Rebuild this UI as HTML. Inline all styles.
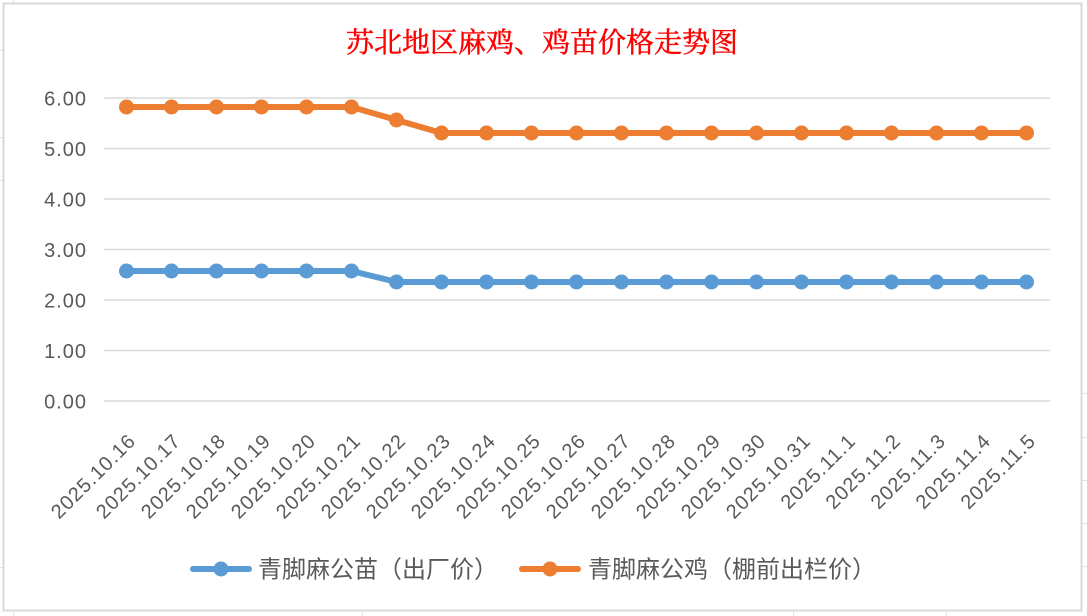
<!DOCTYPE html>
<html>
<head>
<meta charset="utf-8">
<style>
html,body{margin:0;padding:0;background:#fff;}
body{width:1087px;height:616px;overflow:hidden;}
svg{display:block;}
.yl{font-family:"Liberation Sans",sans-serif;font-size:20px;fill:#595959;letter-spacing:1px;}
.xl{font-family:"Liberation Sans",sans-serif;font-size:20px;fill:#595959;letter-spacing:1px;}
.lg{font-family:"Liberation Sans","Noto Sans CJK SC",sans-serif;font-size:24px;fill:#595959;}
.tt{font-family:"Liberation Serif","Noto Serif CJK SC",serif;font-size:28px;fill:#ff0000;stroke:#ff0000;stroke-width:0.5px;}
</style>
</head>
<body>
<svg width="1087" height="616" viewBox="0 0 1087 616" xmlns="http://www.w3.org/2000/svg">
  <g stroke="#e3e3e3" stroke-width="1">
    <line x1="13.5" y1="0" x2="13.5" y2="4"/>
    <line x1="13.5" y1="610" x2="13.5" y2="616"/>
    <line x1="362.5" y1="610" x2="362.5" y2="616"/>
    <line x1="793.5" y1="610" x2="793.5" y2="616"/>
    <line x1="946.5" y1="610" x2="946.5" y2="616"/>
    <line x1="0" y1="50.5" x2="4" y2="50.5"/>
    <line x1="0" y1="137.5" x2="4" y2="137.5"/>
    <line x1="0" y1="180.5" x2="4" y2="180.5"/>
    <line x1="0" y1="567.5" x2="4" y2="567.5"/>
    <line x1="1082" y1="393.5" x2="1087" y2="393.5"/>
    <line x1="1082" y1="437.5" x2="1087" y2="437.5"/>
    <line x1="1082" y1="480.5" x2="1087" y2="480.5"/>
    <line x1="1082" y1="523.5" x2="1087" y2="523.5"/>
    <line x1="1082" y1="566.5" x2="1087" y2="566.5"/>
  </g>
  <rect x="3.5" y="3.5" width="1078" height="607" fill="#fff" stroke="#d9d9d9" stroke-width="2"/>

  <text class="tt" x="542" y="52" text-anchor="middle">苏北地区麻鸡、鸡苗价格走势图</text>

  <g stroke="#d9d9d9" stroke-width="1.5">
    <line x1="104" y1="98" x2="1050" y2="98"/>
    <line x1="104" y1="148.5" x2="1050" y2="148.5"/>
    <line x1="104" y1="199" x2="1050" y2="199"/>
    <line x1="104" y1="249.5" x2="1050" y2="249.5"/>
    <line x1="104" y1="300" x2="1050" y2="300"/>
    <line x1="104" y1="350.5" x2="1050" y2="350.5"/>
    <line x1="104" y1="401" x2="1050" y2="401"/>
  </g>

  <g class="yl" text-anchor="end">
    <text x="87" y="105.5">6.00</text>
    <text x="87" y="156">5.00</text>
    <text x="87" y="206.5">4.00</text>
    <text x="87" y="257">3.00</text>
    <text x="87" y="307.5">2.00</text>
    <text x="87" y="358">1.00</text>
    <text x="87" y="408.5">0.00</text>
  </g>

  <g class="xl" text-anchor="end">
    <text x="137" y="442" transform="rotate(-45 137 442)">2025.10.16</text>
    <text x="182" y="442" transform="rotate(-45 182 442)">2025.10.17</text>
    <text x="227" y="442" transform="rotate(-45 227 442)">2025.10.18</text>
    <text x="272" y="442" transform="rotate(-45 272 442)">2025.10.19</text>
    <text x="317" y="442" transform="rotate(-45 317 442)">2025.10.20</text>
    <text x="362" y="442" transform="rotate(-45 362 442)">2025.10.21</text>
    <text x="407" y="442" transform="rotate(-45 407 442)">2025.10.22</text>
    <text x="452" y="442" transform="rotate(-45 452 442)">2025.10.23</text>
    <text x="497" y="442" transform="rotate(-45 497 442)">2025.10.24</text>
    <text x="542" y="442" transform="rotate(-45 542 442)">2025.10.25</text>
    <text x="587" y="442" transform="rotate(-45 587 442)">2025.10.26</text>
    <text x="632" y="442" transform="rotate(-45 632 442)">2025.10.27</text>
    <text x="677" y="442" transform="rotate(-45 677 442)">2025.10.28</text>
    <text x="722" y="442" transform="rotate(-45 722 442)">2025.10.29</text>
    <text x="767" y="442" transform="rotate(-45 767 442)">2025.10.30</text>
    <text x="812" y="442" transform="rotate(-45 812 442)">2025.10.31</text>
    <text x="857" y="442" transform="rotate(-45 857 442)">2025.11.1</text>
    <text x="902" y="442" transform="rotate(-45 902 442)">2025.11.2</text>
    <text x="947" y="442" transform="rotate(-45 947 442)">2025.11.3</text>
    <text x="992" y="442" transform="rotate(-45 992 442)">2025.11.4</text>
    <text x="1037" y="442" transform="rotate(-45 1037 442)">2025.11.5</text>
  </g>

  <polyline fill="none" stroke="#ED7D31" stroke-width="6" stroke-linejoin="round" stroke-linecap="round"
    points="126.5,107 171.5,107 216.5,107 261.5,107 306.5,107 351.5,107 396.5,120 441.5,133 486.5,133 531.5,133 576.5,133 621.5,133 666.5,133 711.5,133 756.5,133 801.5,133 846.5,133 891.5,133 936.5,133 981.5,133 1026.5,133"/>
  <g fill="#ED7D31">
    <circle cx="126.5" cy="107" r="7.5"/><circle cx="171.5" cy="107" r="7.5"/><circle cx="216.5" cy="107" r="7.5"/>
    <circle cx="261.5" cy="107" r="7.5"/><circle cx="306.5" cy="107" r="7.5"/><circle cx="351.5" cy="107" r="7.5"/>
    <circle cx="396.5" cy="120" r="7.5"/><circle cx="441.5" cy="133" r="7.5"/><circle cx="486.5" cy="133" r="7.5"/>
    <circle cx="531.5" cy="133" r="7.5"/><circle cx="576.5" cy="133" r="7.5"/><circle cx="621.5" cy="133" r="7.5"/>
    <circle cx="666.5" cy="133" r="7.5"/><circle cx="711.5" cy="133" r="7.5"/><circle cx="756.5" cy="133" r="7.5"/>
    <circle cx="801.5" cy="133" r="7.5"/><circle cx="846.5" cy="133" r="7.5"/><circle cx="891.5" cy="133" r="7.5"/>
    <circle cx="936.5" cy="133" r="7.5"/><circle cx="981.5" cy="133" r="7.5"/><circle cx="1026.5" cy="133" r="7.5"/>
  </g>

  <polyline fill="none" stroke="#5B9BD5" stroke-width="6" stroke-linejoin="round" stroke-linecap="round"
    points="126.5,271 171.5,271 216.5,271 261.5,271 306.5,271 351.5,271 396.5,282 441.5,282 486.5,282 531.5,282 576.5,282 621.5,282 666.5,282 711.5,282 756.5,282 801.5,282 846.5,282 891.5,282 936.5,282 981.5,282 1026.5,282"/>
  <g fill="#5B9BD5">
    <circle cx="126.5" cy="271" r="7.5"/><circle cx="171.5" cy="271" r="7.5"/><circle cx="216.5" cy="271" r="7.5"/>
    <circle cx="261.5" cy="271" r="7.5"/><circle cx="306.5" cy="271" r="7.5"/><circle cx="351.5" cy="271" r="7.5"/>
    <circle cx="396.5" cy="282" r="7.5"/><circle cx="441.5" cy="282" r="7.5"/><circle cx="486.5" cy="282" r="7.5"/>
    <circle cx="531.5" cy="282" r="7.5"/><circle cx="576.5" cy="282" r="7.5"/><circle cx="621.5" cy="282" r="7.5"/>
    <circle cx="666.5" cy="282" r="7.5"/><circle cx="711.5" cy="282" r="7.5"/><circle cx="756.5" cy="282" r="7.5"/>
    <circle cx="801.5" cy="282" r="7.5"/><circle cx="846.5" cy="282" r="7.5"/><circle cx="891.5" cy="282" r="7.5"/>
    <circle cx="936.5" cy="282" r="7.5"/><circle cx="981.5" cy="282" r="7.5"/><circle cx="1026.5" cy="282" r="7.5"/>
  </g>

  <line x1="193" y1="569" x2="249" y2="569" stroke="#5B9BD5" stroke-width="6" stroke-linecap="round"/>
  <circle cx="221" cy="569" r="7.5" fill="#5B9BD5"/>
  <text class="lg" x="258" y="577.5">青脚麻公苗（出厂价）</text>

  <line x1="522" y1="569" x2="578" y2="569" stroke="#ED7D31" stroke-width="6" stroke-linecap="round"/>
  <circle cx="550" cy="569" r="7.5" fill="#ED7D31"/>
  <text class="lg" x="588" y="577.5">青脚麻公鸡（棚前出栏价）</text>
</svg>
</body>
</html>
